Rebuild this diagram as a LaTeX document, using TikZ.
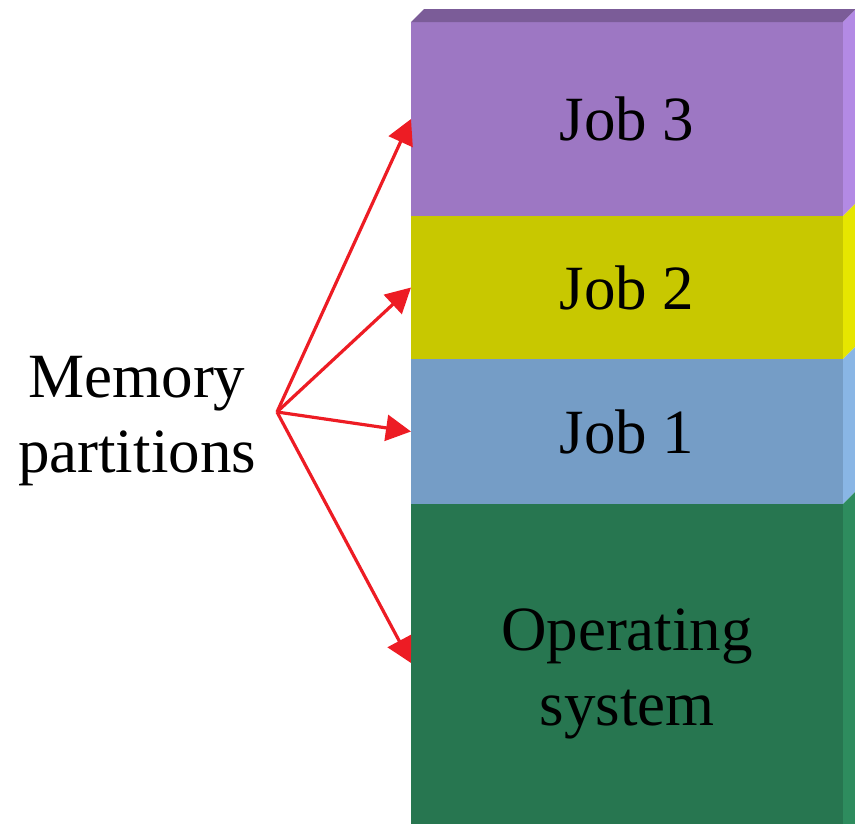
\documentclass[tikz,border=0pt]{standalone}
\usepackage{fontspec}
\setmainfont{Liberation Serif}
\usetikzlibrary{arrows.meta,calc}
\usetikzlibrary{positioning}
\definecolor{jobthree}{HTML}{9D77C3}
\definecolor{jobthreetop}{HTML}{7B5C98}
\definecolor{jobthreeside}{HTML}{B38AE5}
\definecolor{jobtwo}{HTML}{C8C800}
\definecolor{jobtwoside}{HTML}{E6E600}
\definecolor{jobone}{HTML}{759DC6}
\definecolor{joboneside}{HTML}{89B6E5}
\definecolor{opsys}{HTML}{277650}
\definecolor{opsysside}{HTML}{2E8C5E}
\definecolor{arrowred}{HTML}{ED1C24}
\newcommand{\bigtext}{\fontsize{63}{75}\selectfont}
\tikzstyle{part}=[rectangle,minimum width=432pt,inner sep=0,outer sep=0,
                  text=black,font=\bigtext,align=center]
\tikzstyle{hit}=[-{Triangle[length=25pt,width=26pt]},line width=3.2pt,draw=arrowred]
\tikzstyle{label}=[font=\bigtext,align=center,text=black]

\begin{document}
\begin{tikzpicture}[x=1pt,y=-1pt]
\clip (0,0) rectangle (855,823);
\path[use as bounding box] (0,0) rectangle (855,823);

\node[part,fill=jobthree,minimum height=194pt] (job3) at (627,119) {Job 3};
\node[part,fill=jobtwo,minimum height=143pt,below=0pt of job3] (job2) {Job 2};
\node[part,fill=jobone,minimum height=145pt,below=0pt of job2] (job1) {Job 1};
\node[part,fill=opsys,minimum height=340pt,below=0pt of job1] (os) {Operating\\system};

% top face and right faces
\fill[jobthreetop] (job3.north west) -- ++(13,-13)
  -- ($(job3.north east)+(13,-13)$) -- (job3.north east) -- cycle;
\foreach \n/\c in {job3/jobthreeside,job2/jobtwoside,job1/joboneside,os/opsysside}
  \fill[\c] (\n.north east) -- ++(13,-13) -- ($(\n.south east)+(13,-13)$)
    -- (\n.south east) -- cycle;

\node[label] (mem) at (137,421) {Memory\\partitions};
\coordinate (src) at (277,412);

\path
(src) edge[hit] (job3.west)
(src) edge[hit] (job2.west)
(src) edge[hit] (job1.west)
(src) edge[hit] ($(os.west)+(0,-11)$)
;
\end{tikzpicture}
\end{document}
